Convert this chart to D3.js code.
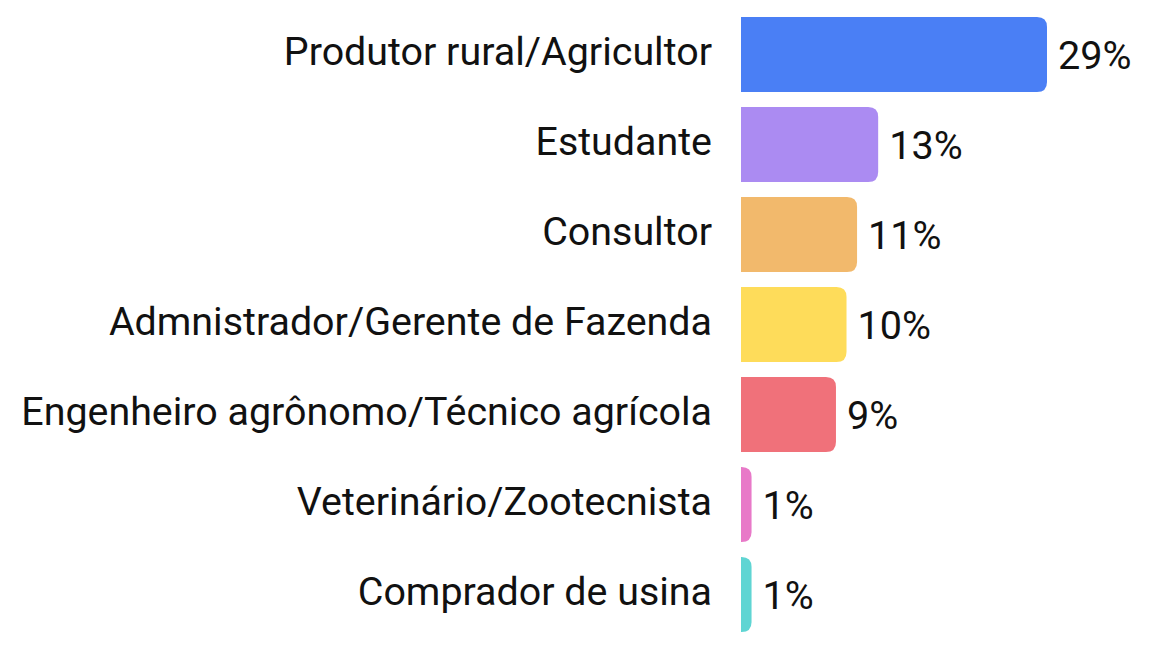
<!DOCTYPE html>
<html><head><meta charset="utf-8">
<script src="https://cdn.jsdelivr.net/npm/d3@7"></script>
<style>body{margin:0;background:#fff}svg{display:block}text{font-family:Roboto,"Noto Sans",sans-serif;fill:#111}</style>
</head><body><svg id="c" width="1152" height="648"></svg>
<script>
const categories = ["Produtor rural/Agricultor","Estudante","Consultor","Admnistrador/Gerente de Fazenda","Engenheiro agrônomo/Técnico agrícola","Veterinário/Zootecnista","Comprador de usina"];
const values = [29,13,11,10,9,1,1];
const colors = ["#4a7ff5","#ab8bf2","#f2b96c","#fedc5a","#f0717a","#e879c8","#5fd5d3"];

const svg = d3.select("#c");
const x0 = 741;
const x = d3.scaleLinear().domain([0,29]).range([x0, 1047]);
const y = d3.scaleBand().domain(categories).range([2,647]).paddingInner(1/6).paddingOuter(1/6);
const r = 10;
const data = categories.map((c,i)=>({c,v:values[i],col:colors[i]}));

function barPath(d){
  const x1 = x0, x2 = x(d.v), y1 = y(d.c), y2 = y1 + y.bandwidth();
  const rr = Math.min(r, x2-x1);
  return `M${x1},${y1}H${x2-rr}Q${x2},${y1} ${x2},${y1+rr}V${y2-rr}Q${x2},${y2} ${x2-rr},${y2}H${x1}Z`;
}
svg.selectAll("path.bar").data(data).join("path").attr("class","bar")
  .attr("d",barPath).attr("fill",d=>d.col);

svg.selectAll("text.cat").data(data).join("text").attr("class","cat")
  .attr("x",712).attr("y",d=>y(d.c)+y.bandwidth()/2+10.5)
  .attr("text-anchor","end").attr("font-size",39.4).text(d=>d.c);

svg.selectAll("text.val").data(data).join("text").attr("class","val")
  .attr("x",d=>x(d.v)+11).attr("y",d=>y(d.c)+y.bandwidth()/2+14.5)
  .attr("font-size",39.6).text(d=>d.v+"%");
</script></body></html>
